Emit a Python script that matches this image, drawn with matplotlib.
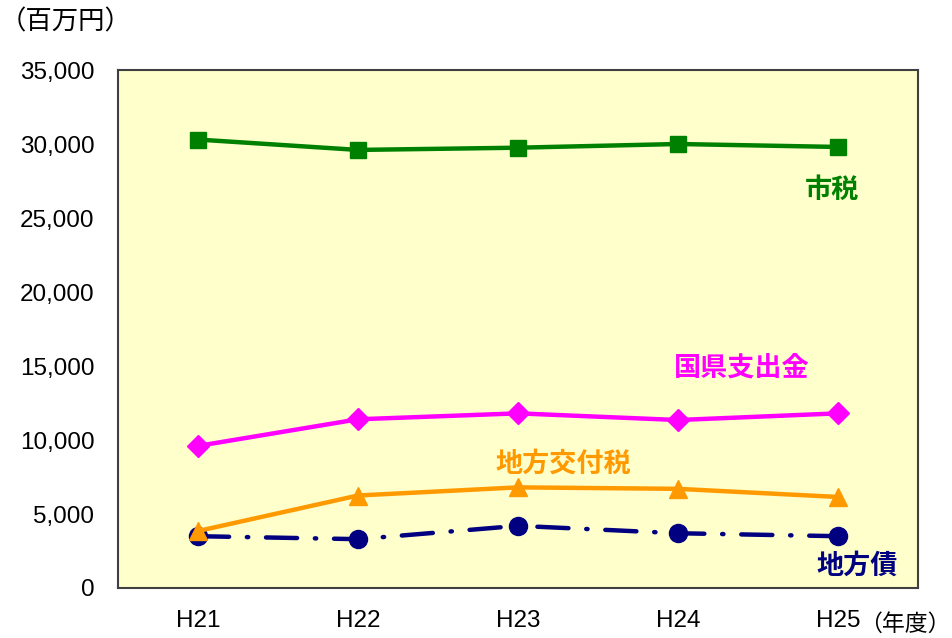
import matplotlib
matplotlib.use("Agg")
import matplotlib.pyplot as plt

plt.rcParams['font.family'] = ['Liberation Sans', 'Noto Sans CJK JP', 'DejaVu Sans']

years = ["H21", "H22", "H23", "H24", "H25"]
shizei = [30300, 29600, 29750, 30000, 29800]
kokken = [9600, 11400, 11800, 11350, 11800]
koufuzei = [3850, 6250, 6800, 6700, 6150]
chihousai = [3500, 3300, 4200, 3700, 3500]
yticks = [0, 5000, 10000, 15000, 20000, 25000, 30000, 35000]

fig = plt.figure(figsize=(9.53, 6.38), dpi=100)
ax = fig.add_axes([118/953, 1-588/638, 800/953, 518/638])
ax.set_facecolor('#FFFFCC')
x = list(range(len(years)))

ax.plot(x, shizei, color='#008000', lw=3.2, marker='s', ms=12, zorder=5)
ax.plot(x, kokken, color='#FF00FF', lw=3.2, marker='D', ms=11, zorder=4)
ax.plot(x, chihousai, color='#000080', lw=3.2, marker='o', ms=13,
        dashes=(7, 4, 0.3, 4), dash_capstyle='round', zorder=3)
ax.plot(x, koufuzei, color='#FF9900', lw=3.2, marker='^', ms=13, zorder=4)

ax.set_xlim(-0.5, 4.5)
ax.set_ylim(0, 35000)
ax.set_yticks(yticks)
ax.set_yticklabels([f"{v:,}" for v in yticks], fontsize=17.5)
ax.set_xticks(x)
ax.set_xticklabels(years, fontsize=17.5)
ax.tick_params(length=0)
ax.tick_params(axis='x', pad=16)
ax.tick_params(axis='y', pad=17)
for s in ax.spines.values():
    s.set_color('#404040')
    s.set_linewidth(1.5)

jp = ['Noto Sans CJK JP', 'DejaVu Sans']
ax.text(3.96, 26900, "市税", color='#008000', fontsize=19.5, fontweight='bold', family=jp, ha='center', va='center')
ax.text(3.4, 14930, "国県支出金", color='#FF00FF', fontsize=19.5, fontweight='bold', family=jp, ha='center', va='center')
ax.text(2.28, 8380, "地方交付税", color='#FF9900', fontsize=19.5, fontweight='bold', family=jp, ha='center', va='center')
ax.text(4.12, 1490, "地方債", color='#000080', fontsize=19.5, fontweight='bold', family=jp, ha='center', va='center')

fig.text(66/953, 1-22/638, "（百万円）", fontsize=19, family=jp, ha='center', va='center')
fig.text(951/953, 1-624/638, "（年度）", fontsize=16.5, family=jp, ha='right', va='center')

fig.savefig("out.png", dpi=100, facecolor='white')
